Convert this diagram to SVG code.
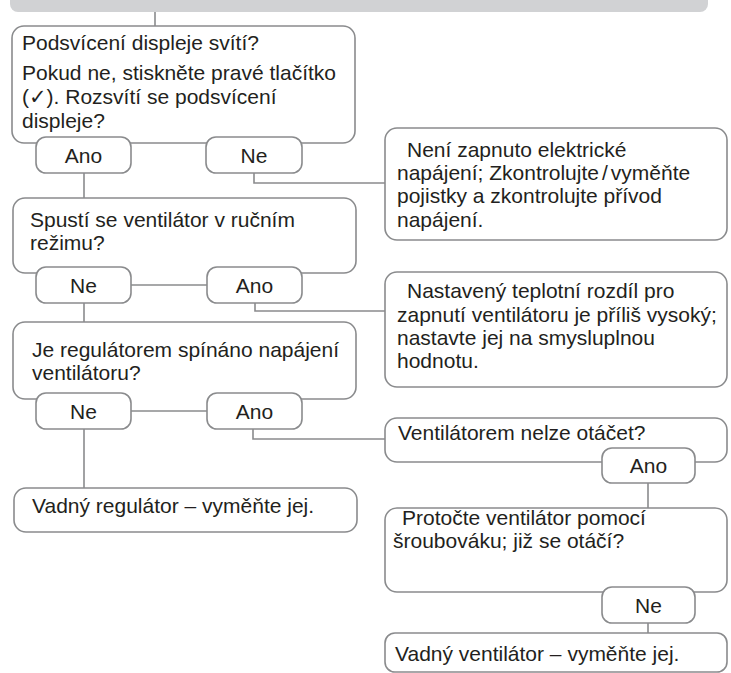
<svg xmlns="http://www.w3.org/2000/svg" width="731" height="673" viewBox="0 0 731 673">
<style>
  .box{fill:#ffffff;stroke:#8a8b8d;stroke-width:1.6}
  .pill{fill:#ffffff;stroke:#8a8b8d;stroke-width:1.6}
  .ln{fill:none;stroke:#8a8b8d;stroke-width:1.6}
  text{font-family:"Liberation Sans",Arial,"DejaVu Sans",sans-serif;font-size:21px;fill:#231f20}
  .c{text-anchor:middle}
</style>
<rect x="10" y="-20" width="698" height="32" rx="8" fill="#d1d2d4"/>
<g id="connectors">
  <path class="ln" d="M155,12 V26"/>
  <path class="ln" d="M84,173 V198"/>
  <path class="ln" d="M254,173 V183 H385"/>
  <path class="ln" d="M84,303 V322"/>
  <path class="ln" d="M131,285 H207"/>
  <path class="ln" d="M255,303 V311 H385"/>
  <path class="ln" d="M84,429 V488"/>
  <path class="ln" d="M131,411 H207"/>
  <path class="ln" d="M253,429 V439 H385"/>
  <path class="ln" d="M648,483 V508"/>
  <path class="ln" d="M648,623 V633"/>
</g>
<g id="q1">
  <rect class="box" x="12" y="26" width="343" height="117" rx="12"/>
  <text x="22" y="50">Podsvícení displeje svítí?</text>
  <text x="22" y="80">Pokud ne, stiskněte pravé tlačítko</text>
  <text x="22" y="104">(✓). Rozsvítí se podsvícení</text>
  <text x="22" y="128">displeje?</text>
</g>
<g id="q1-ano">
  <rect class="pill" x="36" y="137" width="95" height="36" rx="10"/>
  <text class="c" x="83.5" y="162.5">Ano</text>
</g>
<g id="q1-ne">
  <rect class="pill" x="206" y="137" width="96" height="36" rx="10"/>
  <text class="c" x="254" y="162.5">Ne</text>
</g>
<g id="r1">
  <rect class="box" x="385" y="128" width="342" height="112" rx="12"/>
  <text x="407" y="157">Není zapnuto elektrické</text>
  <text x="397" y="180">napájení; Zkontrolujte<tspan dx="3">/</tspan><tspan dx="3">vyměňte</tspan></text>
  <text x="397" y="203">pojistky a zkontrolujte přívod</text>
  <text x="397" y="227">napájení.</text>
</g>
<g id="q2">
  <path class="box" d="M60,273 H25 A12,12 0 0 1 13,261 V210 A12,12 0 0 1 25,198 H344 A12,12 0 0 1 356,210 V261 A12,12 0 0 1 344,273 H280"/>
  <text x="30" y="227">Spustí se ventilátor v ručním</text>
  <text x="30" y="250">režimu?</text>
</g>
<g id="q2-ne">
  <rect class="pill" x="36" y="267" width="95" height="36" rx="10"/>
  <text class="c" x="83.5" y="292.5">Ne</text>
</g>
<g id="q2-ano">
  <rect class="pill" x="207" y="267" width="95" height="36" rx="10"/>
  <text class="c" x="254.5" y="292.5">Ano</text>
</g>
<g id="r2">
  <rect class="box" x="385" y="272" width="342" height="115" rx="12"/>
  <text x="407" y="298">Nastavený teplotní rozdíl pro</text>
  <text x="397" y="322">zapnutí ventilátoru je příliš vysoký;</text>
  <text x="397" y="345">nastavte jej na smysluplnou</text>
  <text x="397" y="368">hodnotu.</text>
</g>
<g id="q3">
  <path class="box" d="M60,399 H25 A12,12 0 0 1 13,387 V334 A12,12 0 0 1 25,322 H344 A12,12 0 0 1 356,334 V387 A12,12 0 0 1 344,399 H280"/>
  <text x="32" y="357">Je regulátorem spínáno napájení</text>
  <text x="32" y="380">ventilátoru?</text>
</g>
<g id="q3-ne">
  <rect class="pill" x="36" y="393" width="95" height="36" rx="10"/>
  <text class="c" x="83.5" y="418.5">Ne</text>
</g>
<g id="q3-ano">
  <rect class="pill" x="207" y="393" width="95" height="36" rx="10"/>
  <text class="c" x="254.5" y="418.5">Ano</text>
</g>
<g id="e1">
  <rect class="box" x="14" y="488" width="343" height="44" rx="12"/>
  <text x="32" y="513">Vadný regulátor – vyměňte jej.</text>
</g>
<g id="q4">
  <rect class="box" x="385" y="418" width="342" height="44" rx="12"/>
  <text x="398" y="440">Ventilátorem nelze otáčet?</text>
</g>
<g id="q4-ano">
  <rect class="pill" x="602" y="448" width="93" height="35" rx="10"/>
  <text class="c" x="648.5" y="473">Ano</text>
</g>
<g id="q5">
  <rect class="box" x="385" y="508" width="342" height="84" rx="12"/>
  <text x="402" y="525">Protočte ventilátor pomocí</text>
  <text x="393" y="548">šroubováku; již se otáčí?</text>
</g>
<g id="q5-ne">
  <rect class="pill" x="602" y="587" width="93" height="36" rx="10"/>
  <text class="c" x="648.5" y="612.5">Ne</text>
</g>
<g id="e2">
  <rect class="box" x="385" y="633" width="342" height="39" rx="10"/>
  <text x="395" y="661">Vadný ventilátor – vyměňte jej.</text>
</g>
</svg>
